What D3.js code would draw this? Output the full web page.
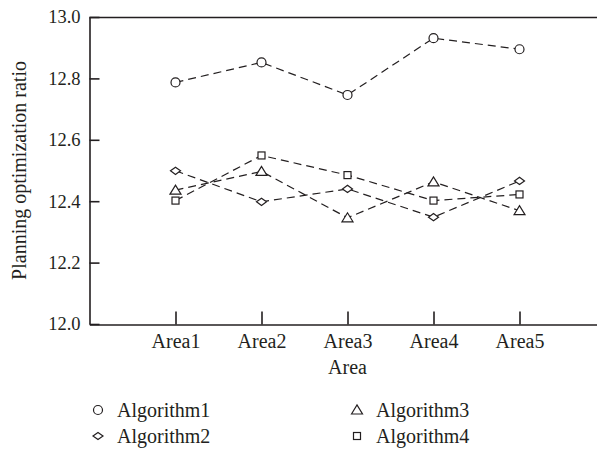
<!DOCTYPE html>
<html>
<head>
<meta charset="utf-8">
<script src="https://cdn.jsdelivr.net/npm/d3@7"></script>
<style>
  body { margin: 0; background: #fff; }
  text { font-family: "Liberation Serif", "DejaVu Serif", serif; fill: #231f20; }
</style>
</head>
<body>
<script>
var areas = ["Area1", "Area2", "Area3", "Area4", "Area5"]
var algorithm1 = [12.787, 12.852, 12.746, 12.931, 12.895]
var algorithm2 = [12.499, 12.398, 12.440, 12.348, 12.466]
var algorithm3 = [12.436, 12.497, 12.346, 12.463, 12.369]
var algorithm4 = [12.402, 12.549, 12.485, 12.402, 12.422]
var yTicks = [12.0, 12.2, 12.4, 12.6, 12.8, 13.0]

var width = 597, height = 451
var ink = "#231f20"
var fontSize = 20
var tickFont = 18.5

var series = [
    {name: "Algorithm1", values: algorithm1, shape: "circle"},
    {name: "Algorithm2", values: algorithm2, shape: "diamond"},
    {name: "Algorithm3", values: algorithm3, shape: "triangle"},
    {name: "Algorithm4", values: algorithm4, shape: "square"}
]

var svg = d3.select("body").append("svg")
    .attr("width", width)
    .attr("height", height)

var x = d3.scalePoint()
    .domain(areas)
    .range([89.5, 605.5])
    .padding(1)

var y = d3.scaleLinear()
    .domain([12, 13])
    .range([324, 17])

// marker shapes
function marker(sel, shape) {
    if (shape === "circle") {
        sel.append("circle").attr("r", 4.5)
    } else if (shape === "diamond") {
        sel.append("path").attr("d", "M-5,0L0,-3.6L5,0L0,3.6Z")
    } else if (shape === "triangle") {
        sel.append("path").attr("d", "M-5.5,4L0,-5L5.5,4Z")
    } else {
        sel.append("rect").attr("x", -3.5).attr("y", -3.5).attr("width", 7).attr("height", 7)
    }
    sel.selectAll("*")
        .attr("fill", "#fff")
        .attr("stroke", ink)
        .attr("stroke-width", 1.2)
}

// axes
svg.append("g")
    .attr("transform", "translate(89.5,0)")
    .call(d3.axisLeft(y).tickValues(yTicks).tickFormat(d3.format(".1f"))
        .tickSizeInner(-10).tickSizeOuter(0).tickPadding(9))

var xAxis = svg.append("g")
    .attr("transform", "translate(0,324.5)")
    .call(d3.axisBottom(x).tickSizeInner(-13).tickSizeOuter(0).tickPadding(9))

svg.selectAll(".domain, .tick line")
    .attr("stroke", ink)
    .attr("stroke-width", 1.6)
svg.selectAll(".tick text")
    .attr("font-size", tickFont)
    .attr("font-family", "Liberation Serif")
    .attr("fill", ink)
xAxis.selectAll(".tick text")
    .attr("font-size", fontSize)

// top frame line
svg.append("line")
    .attr("x1", 89.5).attr("x2", width)
    .attr("y1", 17.5).attr("y2", 17.5)
    .attr("stroke", ink)
    .attr("stroke-width", 1.6)

// axis titles
svg.append("text")
    .attr("transform", "translate(26," + (y(12.5)) + ") rotate(-90)")
    .attr("text-anchor", "middle")
    .attr("font-size", fontSize)
    .text("Planning optimization ratio")

svg.append("text")
    .attr("x", x("Area3"))
    .attr("y", 374)
    .attr("text-anchor", "middle")
    .attr("font-size", fontSize)
    .text("Area")

// lines and markers
var line = d3.line()
    .x(function (d, i) { return x(areas[i]) })
    .y(function (d) { return y(d) })

series.forEach(function (s) {
    svg.append("path")
        .datum(s.values)
        .attr("d", line)
        .attr("fill", "none")
        .attr("stroke", ink)
        .attr("stroke-width", 1.2)
        .attr("stroke-dasharray", "8,5")
})

series.forEach(function (s) {
    s.values.forEach(function (v, i) {
        var g = svg.append("g")
            .attr("transform", "translate(" + x(areas[i]) + "," + y(v) + ")")
        marker(g, s.shape)
    })
})

// legend
var legendPos = [[98, 410], [98, 436], [357, 410], [357, 436]]
series.forEach(function (s, i) {
    var g = svg.append("g")
        .attr("transform", "translate(" + legendPos[i][0] + "," + legendPos[i][1] + ")")
    marker(g, s.shape)
    g.append("text")
        .attr("x", 19)
        .attr("dy", "0.35em")
        .attr("font-size", fontSize)
        .text(s.name)
})
</script>
</body>
</html>
